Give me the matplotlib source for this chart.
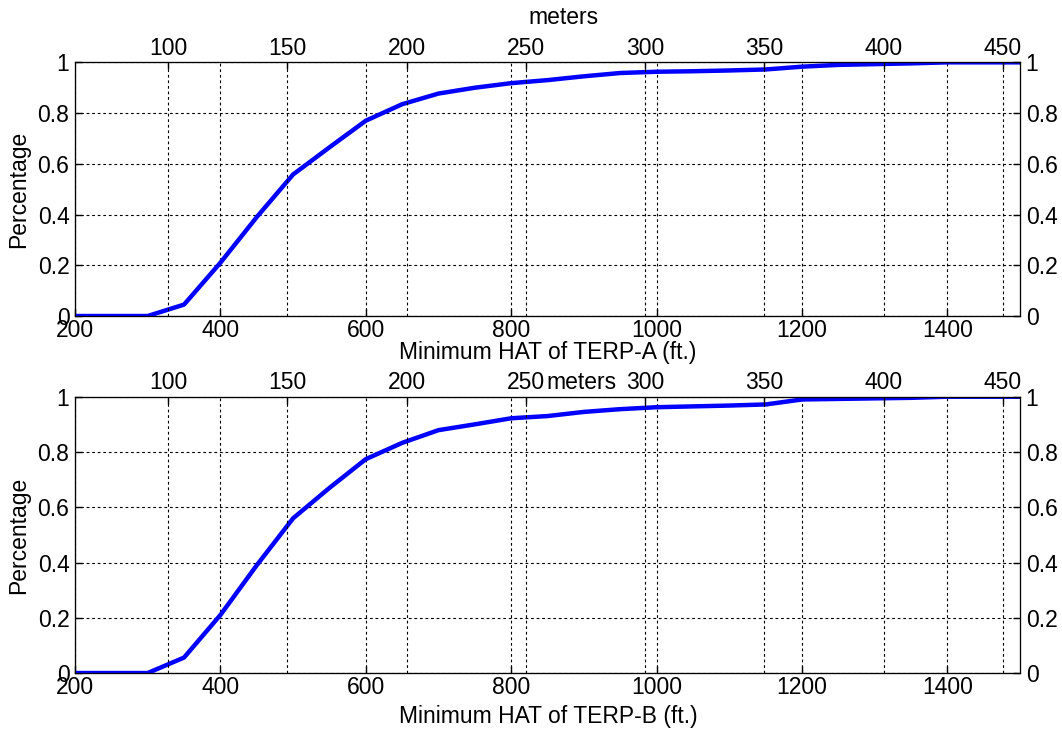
import matplotlib
matplotlib.use("Agg")
import matplotlib.pyplot as plt

plt.rcParams["font.family"] = ["Liberation Sans", "DejaVu Sans"]
plt.rcParams["font.size"] = 16.5

FT_PER_M = 3.28084

feet = [200, 300, 350, 400, 450, 500, 550, 600, 650, 700, 750, 800, 850,
        900, 950, 1000, 1050, 1100, 1150, 1200, 1250, 1300, 1350, 1400,
        1450, 1500]
terp_a = [0, 0, 0.045, 0.21, 0.39, 0.558, 0.665, 0.77, 0.835, 0.877, 0.9,
          0.918, 0.93, 0.945, 0.958, 0.963, 0.965, 0.968, 0.972, 0.983,
          0.99, 0.993, 0.996, 1.0, 1.0, 1.0]
terp_b = [0, 0, 0.056, 0.21, 0.39, 0.56, 0.67, 0.774, 0.833, 0.879, 0.9,
          0.922, 0.93, 0.945, 0.955, 0.962, 0.965, 0.968, 0.972, 0.99,
          0.992, 0.994, 0.996, 1.0, 1.0, 1.0]

ft_ticks = [200, 400, 600, 800, 1000, 1200, 1400]
m_ticks = [100, 150, 200, 250, 300, 350, 400, 450]
y_ticks = [0, 0.2, 0.4, 0.6, 0.8, 1]
y_labels = ["0", "0.2", "0.4", "0.6", "0.8", "1"]

W, H = 1062, 731
# (values, xlabel, axes rect, meters label pos px, xlabel pos px, ylabel y px)
panels = [
    (terp_a, "Minimum HAT of TERP-A (ft.)", [0.0706, 0.5677, 0.890, 0.347],
     (563, 17), (548, 353), 189),
    (terp_b, "Minimum HAT of TERP-B (ft.)", [0.0706, 0.0793, 0.890, 0.378],
     (582, 383), (548, 717), 535),
]

grid_style = dict(color="black", linestyle=(0, (2.5, 2.5)), linewidth=0.8)

fig = plt.figure(figsize=(10.62, 7.31), dpi=100)

for values, xlabel, rect, meters_pos, xlabel_pos, ylabel_y in panels:
    ax = fig.add_axes(rect)
    ax.plot(feet, values, color="#0000ff", linewidth=3.2, zorder=5)
    ax.set_xlim(200, 1500)
    ax.set_ylim(0, 1)
    ax.set_xticks(ft_ticks)
    ax.set_yticks(y_ticks)
    ax.set_yticklabels(y_labels)
    ax.grid(True, **grid_style)
    ax.tick_params(direction="in", length=5, width=1, pad=2)
    ax.tick_params(axis="y", pad=4)

    axr = ax.twinx()
    axr.set_ylim(0, 1)
    axr.set_yticks(y_ticks)
    axr.set_yticklabels(y_labels)
    axr.tick_params(direction="in", length=5, width=1, pad=4)

    axt = ax.twiny()
    axt.set_xlim(200 / FT_PER_M, 1500 / FT_PER_M)
    axt.set_xticks(m_ticks)
    axt.tick_params(direction="in", length=5, width=1, pad=2)
    axt.grid(True, axis="x", **grid_style)

    fig.text(meters_pos[0] / W, 1 - meters_pos[1] / H, "meters",
             ha="center", va="center")
    fig.text(xlabel_pos[0] / W, 1 - xlabel_pos[1] / H, xlabel,
             ha="center", va="center")
    fig.text(19 / W, 1 - ylabel_y / H, "Percentage", rotation=90,
             ha="center", va="center")

fig.savefig("out.png", dpi=100)
